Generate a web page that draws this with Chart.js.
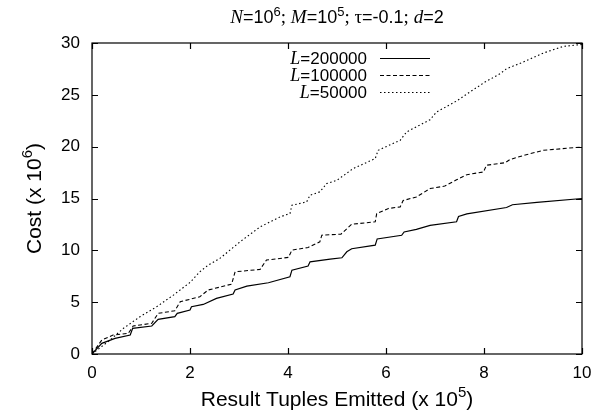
<!DOCTYPE html>
<html>
<head>
<meta charset="utf-8">
<script src="https://cdn.jsdelivr.net/npm/chart.js@4/dist/chart.umd.min.js"></script>
<style>
  html, body { margin: 0; padding: 0; background: #fff; }
  #wrap { width: 608px; height: 420px; }
</style>
</head>
<body>
<div id="wrap"><canvas id="costChart"></canvas></div>
<script>
// tuples emitted (x 10^5) and cost (x 10^6)
var xL200 = [0, 0.20, 0.47, 0.78, 0.83, 1.22, 1.35, 1.69, 1.74, 2.0, 2.03, 2.27, 2.54, 2.88, 2.92, 3.16, 3.60, 4.04, 4.08, 4.41, 4.45, 4.86, 5.10, 5.20, 5.30, 5.78, 5.82, 6.32, 6.37, 6.62, 6.90, 7.44, 7.48, 7.65, 8.46, 8.58, 9.08, 10.0];
var yL200 = [0, 1.03, 1.51, 1.83, 2.47, 2.70, 3.34, 3.60, 3.92, 4.24, 4.56, 4.78, 5.36, 5.78, 6.17, 6.55, 6.87, 7.45, 8.09, 8.48, 8.89, 9.15, 9.28, 9.86, 10.15, 10.5, 11.1, 11.45, 11.77, 12.02, 12.4, 12.75, 13.26, 13.52, 14.13, 14.4, 14.62, 15.0];

var xL100 = [0, 0.20, 0.43, 0.74, 0.81, 0.84, 1.22, 1.35, 1.69, 1.80, 2.20, 2.37, 2.85, 2.92, 3.43, 3.56, 4.01, 4.08, 4.41, 4.65, 4.69, 5.08, 5.30, 5.78, 5.81, 6.05, 6.29, 6.35, 6.62, 6.90, 7.20, 7.44, 7.65, 7.99, 8.05, 8.43, 8.53, 8.84, 9.21, 10.0];
var yL100 = [0, 1.35, 1.83, 1.99, 2.47, 2.70, 2.96, 3.92, 4.17, 5.04, 5.52, 6.17, 6.74, 7.93, 8.16, 9.06, 9.32, 10.02, 10.28, 10.82, 11.46, 11.56, 12.52, 12.75, 13.55, 14.04, 14.19, 14.8, 15.15, 15.96, 16.2, 16.8, 17.3, 17.56, 18.21, 18.45, 18.76, 19.2, 19.65, 19.97];

var xL50 = [0, 0.37, 0.64, 0.98, 1.32, 1.66, 2.0, 2.20, 2.37, 2.61, 3.02, 3.43, 3.84, 4.04, 4.08, 4.38, 4.45, 4.65, 4.79, 5.0, 5.33, 5.78, 5.84, 6.29, 6.42, 6.90, 7.03, 7.44, 7.71, 8.02, 8.33, 8.46, 8.80, 9.21, 9.62, 10.0];
var yL50 = [0, 1.35, 2.47, 3.6, 4.56, 5.68, 6.9, 7.93, 8.57, 9.22, 10.82, 12.26, 13.23, 13.55, 14.35, 14.67, 15.32, 15.64, 16.44, 16.76, 17.89, 18.85, 19.65, 20.62, 21.42, 22.6, 23.34, 24.4, 25.27, 26.23, 27.04, 27.52, 28.16, 29.03, 29.67, 29.86];

var seriesNames = ['200000', '100000', '50000'];
var xTicks = [0, 2, 4, 6, 8, 10];
var yTicks = [0, 5, 10, 15, 20, 25, 30];

function pts(xs, ys) {
  return xs.map(function (x, i) { return { x: x, y: ys[i] }; });
}

var SANS = '"Liberation Sans", Arial, sans-serif';
var SERIF = '"Liberation Serif", "Times New Roman", serif';

// draw a run of text pieces (for italics and superscripts)
function drawRuns(ctx, runs, x, y, align) {
  var total = 0;
  runs.forEach(function (r) { ctx.font = r.font; total += ctx.measureText(r.t).width; });
  var cx = align === 'center' ? x - total / 2 : (align === 'right' ? x - total : x);
  ctx.textBaseline = 'alphabetic';
  ctx.textAlign = 'left';
  runs.forEach(function (r) {
    ctx.font = r.font;
    ctx.fillText(r.t, cx, y + (r.dy || 0));
    cx += ctx.measureText(r.t).width;
  });
}

var deco = {
  id: 'deco',
  afterDraw: function (chart) {
    var ctx = chart.ctx;
    var a = chart.chartArea;
    var sx = chart.scales.x, sy = chart.scales.y;
    ctx.save();
    ctx.strokeStyle = '#000';
    ctx.fillStyle = '#000';
    ctx.lineWidth = 1.2;
    // frame
    ctx.strokeRect(a.left, a.top, a.right - a.left, a.bottom - a.top);
    // inward ticks on all four sides
    ctx.beginPath();
    xTicks.forEach(function (v) {
      var px = Math.round(sx.getPixelForValue(v)) + 0.5;
      ctx.moveTo(px, a.bottom); ctx.lineTo(px, a.bottom - 6);
      ctx.moveTo(px, a.top); ctx.lineTo(px, a.top + 6);
    });
    yTicks.forEach(function (v) {
      var py = Math.round(sy.getPixelForValue(v)) + 0.5;
      ctx.moveTo(a.left, py); ctx.lineTo(a.left + 6, py);
      ctx.moveTo(a.right, py); ctx.lineTo(a.right - 6, py);
    });
    ctx.stroke();

    var mid = (a.left + a.right) / 2;
    // title
    drawRuns(ctx, [
      { t: 'N', font: 'italic 19px ' + SERIF },
      { t: '=10', font: '18px ' + SANS },
      { t: '6', font: '13px ' + SANS, dy: -7 },
      { t: '; ', font: '19px ' + SERIF },
      { t: 'M', font: 'italic 19px ' + SERIF },
      { t: '=10', font: '18px ' + SANS },
      { t: '5', font: '13px ' + SANS, dy: -7 },
      { t: '; \u03c4', font: '19px ' + SERIF },
      { t: '=-0.1', font: '18px ' + SANS },
      { t: '; ', font: '19px ' + SERIF },
      { t: 'd', font: 'italic 19px ' + SERIF },
      { t: '=2', font: '18px ' + SANS }
    ], mid, 23, 'center');

    // x axis title
    drawRuns(ctx, [
      { t: 'Result Tuples Emitted (x 10', font: '21px ' + SANS },
      { t: '5', font: '15px ' + SANS, dy: -9 },
      { t: ')', font: '21px ' + SANS }
    ], mid, 406, 'center');

    // y axis title
    ctx.save();
    ctx.translate(41, (a.top + a.bottom) / 2);
    ctx.rotate(-Math.PI / 2);
    drawRuns(ctx, [
      { t: 'Cost (x 10', font: '21px ' + SANS },
      { t: '6', font: '15px ' + SANS, dy: -9 },
      { t: ')', font: '21px ' + SANS }
    ], 0, 0, 'center');
    ctx.restore();

    // legend
    chart.data.datasets.forEach(function (ds, i) {
      var y = 58 + i * 17;
      drawRuns(ctx, [
        { t: 'L', font: 'italic 18px ' + SERIF },
        { t: '=' + seriesNames[i], font: '17px ' + SANS }
      ], 367, y + 6, 'right');
      ctx.beginPath();
      ctx.lineWidth = ds.borderWidth;
      ctx.setLineDash(ds.borderDash || []);
      ctx.moveTo(380, y + 0.5);
      ctx.lineTo(430, y + 0.5);
      ctx.stroke();
      ctx.setLineDash([]);
    });
    ctx.restore();
  }
};

var ctc = document.getElementById('costChart').getContext('2d');
var chart = new Chart(ctc, {
    type: 'line',
    data: {
        datasets: [{
            label: 'L=' + seriesNames[0],
            data: pts(xL200, yL200),
            borderColor: '#000',
            borderWidth: 1.2
        }, {
            label: 'L=' + seriesNames[1],
            data: pts(xL100, yL100),
            borderColor: '#000',
            borderWidth: 1.1,
            borderDash: [4, 2.5]
        }, {
            label: 'L=' + seriesNames[2],
            data: pts(xL50, yL50),
            borderColor: '#000',
            borderWidth: 1.1,
            borderDash: [1.5, 2.5]
        }]
    },
    options: {
      responsive: true,
      maintainAspectRatio: false,
      animation: false,
      layout: { padding: { top: 43, right: 26, left: 0, bottom: 0 } },
      elements: { point: { radius: 0 }, line: { tension: 0 } },
      plugins: { legend: { display: false }, title: { display: false }, tooltip: { enabled: false } },
      scales: {
        x: {
          type: 'linear', min: 0, max: 10,
          grid: { display: false, drawTicks: false },
          border: { display: false },
          ticks: { stepSize: 2, padding: 9, color: '#000', font: { family: SANS, size: 17 } },
          afterFit: function (s) { s.height = 66; }
        },
        y: {
          min: 0, max: 30,
          grid: { display: false, drawTicks: false },
          border: { display: false },
          ticks: { stepSize: 5, padding: 12, color: '#000', font: { family: SANS, size: 17 } },
          afterFit: function (s) { s.width = 92; }
        }
      }
    },
    plugins: [deco]
});
</script>
</body>
</html>
